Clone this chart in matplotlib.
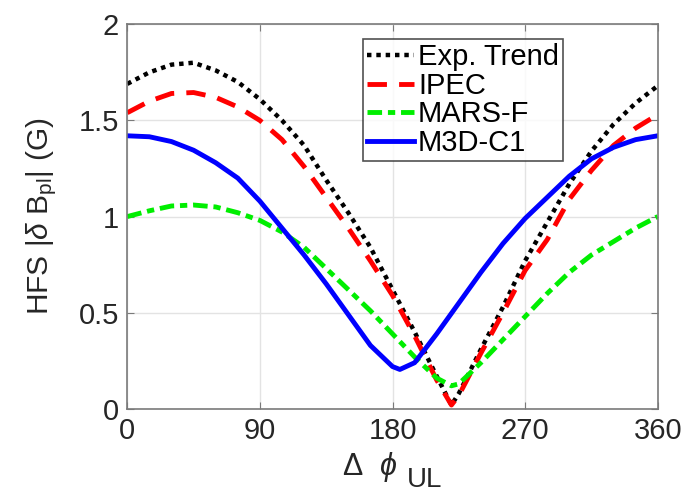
import matplotlib
matplotlib.use("Agg")
import matplotlib.pyplot as plt

plt.rcParams['font.family'] = ['Liberation Sans', 'DejaVu Sans']
plt.rcParams['mathtext.fontset'] = 'custom'
plt.rcParams['mathtext.rm'] = 'Liberation Sans'
plt.rcParams['mathtext.it'] = 'Liberation Sans:italic'

# phase difference (deg)
phi_exp = [0, 15, 30, 45, 60, 75, 90, 105, 120, 135, 150, 165, 180, 195, 210, 220,
           225, 240, 255, 270, 285, 300, 315, 330, 345, 360]
exp_trend = [1.69, 1.75, 1.79, 1.80, 1.76, 1.70, 1.61, 1.50, 1.37, 1.19, 1.02, 0.84, 0.62,
             0.40, 0.17, 0.02, 0.08, 0.31, 0.53, 0.77, 0.97, 1.17, 1.34, 1.48, 1.59, 1.68]

phi_ipec = phi_exp
ipec = [1.54, 1.60, 1.64, 1.645, 1.62, 1.57, 1.50, 1.40, 1.26, 1.10, 0.94, 0.77, 0.59,
        0.38, 0.15, 0.02, 0.07, 0.29, 0.50, 0.72, 0.88, 1.09, 1.24, 1.37, 1.46, 1.53]

phi_mars = phi_exp
mars = [1.00, 1.03, 1.055, 1.06, 1.05, 1.02, 0.98, 0.92, 0.84, 0.73, 0.62, 0.51, 0.39,
        0.27, 0.16, 0.12, 0.13, 0.24, 0.36, 0.48, 0.60, 0.71, 0.80, 0.87, 0.94, 1.00]

phi_m3d = [0, 15, 30, 45, 60, 75, 90, 105, 120, 135, 150, 165, 180, 185, 195, 210,
           225, 240, 255, 270, 285, 300, 315, 330, 345, 360]
m3d = [1.42, 1.415, 1.39, 1.345, 1.28, 1.20, 1.08, 0.94, 0.80, 0.65, 0.49, 0.33, 0.22,
       0.205, 0.24, 0.39, 0.55, 0.71, 0.86, 0.99, 1.10, 1.21, 1.30, 1.36, 1.40, 1.42]

fig = plt.figure(figsize=(6.88, 4.95), dpi=100)
ax = fig.add_axes([0.185, 0.174, 0.771, 0.777])

ax.plot(phi_exp, exp_trend, color='black', lw=3.2, linestyle=(0, (1, 1.1)),
        label='Exp. Trend')
ax.plot(phi_ipec, ipec, color='#ff0000', lw=3.5, linestyle=(0, (4, 2.5)), label='IPEC')
ax.plot(phi_mars, mars, color='#00ee00', lw=3.5, linestyle=(0, (3, 1.2, 1.5, 1.2)),
        label='MARS-F')
ax.plot(phi_m3d, m3d, color='#0000ff', lw=3.5, label='M3D-C1')

ax.set_xlim(0, 360)
ax.set_ylim(0, 2)
ax.set_xticks([0, 90, 180, 270, 360])
ax.set_yticks([0, 0.5, 1, 1.5, 2])
ax.set_yticklabels(['0', '0.5', '1', '1.5', '2'])
ax.grid(True, color='#e3e3e3', lw=1)
ax.set_axisbelow(True)
for s in ax.spines.values():
    s.set_color('#7a7a7a')
    s.set_linewidth(1.2)
ax.tick_params(direction='in', length=5, colors='#7a7a7a', labelcolor='#262626',
               labelsize=21, top=True, right=True, pad=6)

# x label: "Δ φ" with a large lowered "UL"
fig.text(342 / 688, 1 - 475 / 495, r'$\Delta\ \ \phi$', fontsize=22, color='#262626',
         ha='left', va='baseline')
fig.text(407 / 688, 2 / 495, 'UL', fontsize=20, color='#262626',
         ha='left', va='bottom')

ax.set_ylabel(r'HFS |$\delta$ B$_{\mathrm{pl}}$| (G)', fontsize=21.5, color='#262626',
              labelpad=14)

leg = ax.legend(loc='upper right', bbox_to_anchor=(0.822, 0.962), fontsize=21,
                frameon=True, fancybox=False, handlelength=1.6, handletextpad=0.15,
                borderpad=0.15, labelspacing=0.02, borderaxespad=0)
leg.get_frame().set_edgecolor('#262626')
leg.get_frame().set_linewidth(1.2)

fig.savefig('out.png', dpi=100)
